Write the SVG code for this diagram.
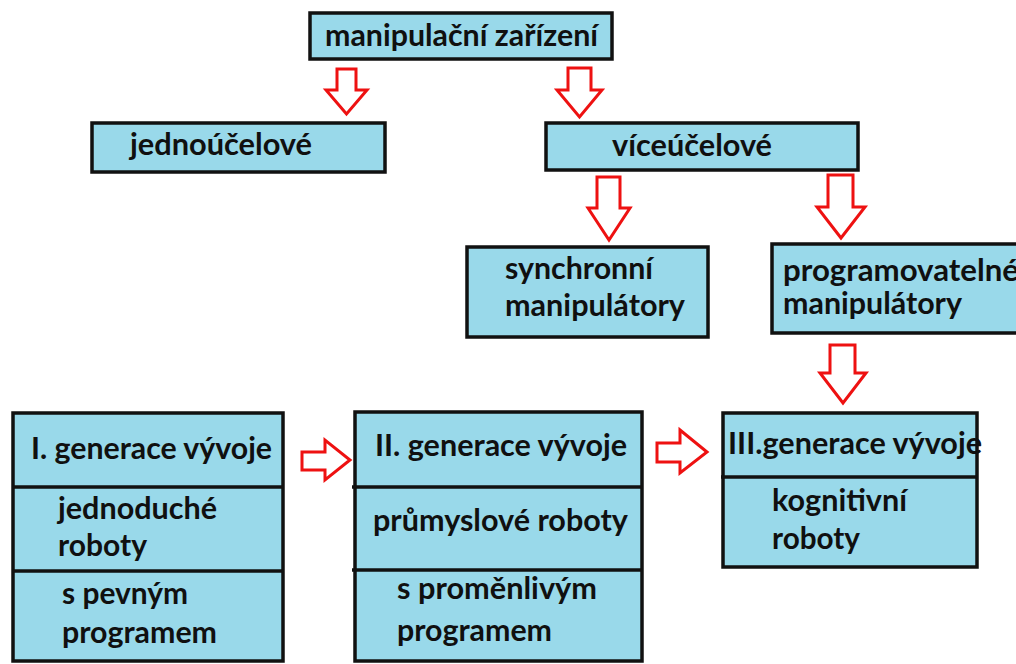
<svg xmlns="http://www.w3.org/2000/svg" width="1016" height="664" viewBox="0 0 1016 664">
<style>
.box{fill:#99d9ea;stroke:#111;stroke-width:3.5}
.div{stroke:#111;stroke-width:3.5;fill:none}
.t{font-family:Lato,"Open Sans","Liberation Sans",sans-serif;font-weight:700;font-size:30.5px;fill:#101010}
.arr{fill:#fff;stroke:#ee1111;stroke-width:3;stroke-linejoin:miter}
</style>
<rect width="1016" height="664" fill="#fff"/>
<g id="connectors">
<polygon class="arr" points="337,69 356,69 356,90 367,90 346.5,114 326,90 337,90"/>
<polygon class="arr" points="568,68 591,68 591,90 602,90 579.5,117 557,90 568,90"/>
<polygon class="arr" points="597,177 620,177 620,208 630,208 609,240 588,208 597,208"/>
<polygon class="arr" points="828,175 853,175 853,207 865,207 841,238 817,207 828,207"/>
<polygon class="arr" points="830,345 855,345 855,373 866,373 843,403 820,373 830,373"/>
<polygon class="arr" points="302,452 325,452 325,440 350,460 325,480 325,470 302,470"/>
<polygon class="arr" points="657,443 680,443 680,430 707,452 680,473 680,462 657,462"/>
</g>
<g id="n-manipulacni">
<rect class="box" x="310" y="13" width="302" height="46" stroke-width="4"/>
<text class="t" x="325" y="46" font-size="29.5" textLength="273" lengthAdjust="spacingAndGlyphs">manipulační zařízení</text>
</g>
<g id="n-jednoucelove">
<rect class="box" x="92" y="123" width="293" height="49"/>
<text class="t" x="130" y="155" font-size="29.5" textLength="182" lengthAdjust="spacingAndGlyphs">jednoúčelové</text>
</g>
<g id="n-viceucelove">
<rect class="box" x="546" y="123" width="312" height="47"/>
<text class="t" x="612" y="156" font-size="29.5" textLength="160" lengthAdjust="spacingAndGlyphs">víceúčelové</text>
</g>
<g id="n-synchronni">
<rect class="box" x="467" y="247" width="241" height="90"/>
<text class="t" x="505" y="279" textLength="148" lengthAdjust="spacingAndGlyphs">synchronní</text>
<text class="t" x="505" y="316" textLength="180" lengthAdjust="spacingAndGlyphs">manipulátory</text>
</g>
<g id="n-programovatelne">
<rect class="box" x="772" y="244" width="260" height="89"/>
<text class="t" x="783" y="281" textLength="236" lengthAdjust="spacingAndGlyphs">programovatelné</text>
<text class="t" x="783" y="314" textLength="179" lengthAdjust="spacingAndGlyphs">manipulátory</text>
</g>
<g id="n-gen1">
<rect class="box" x="13" y="413" width="270" height="248"/>
<line class="div" x1="13" y1="487" x2="283" y2="487"/>
<line class="div" x1="13" y1="571" x2="283" y2="571"/>
<text class="t" x="31" y="459" textLength="241" lengthAdjust="spacingAndGlyphs">I. generace vývoje</text>
<text class="t" x="58" y="519" textLength="159" lengthAdjust="spacingAndGlyphs">jednoduché</text>
<text class="t" x="58" y="556" textLength="89" lengthAdjust="spacingAndGlyphs">roboty</text>
<text class="t" x="62" y="604" textLength="126" lengthAdjust="spacingAndGlyphs">s pevným</text>
<text class="t" x="62" y="643" textLength="155" lengthAdjust="spacingAndGlyphs">programem</text>
</g>
<g id="n-gen2">
<rect class="box" x="355" y="412" width="287" height="249"/>
<line class="div" x1="352" y1="487" x2="642" y2="487"/>
<line class="div" x1="352" y1="570" x2="642" y2="570"/>
<text class="t" x="375" y="456" textLength="252" lengthAdjust="spacingAndGlyphs">II. generace vývoje</text>
<text class="t" x="373" y="531" textLength="255" lengthAdjust="spacingAndGlyphs">průmyslové roboty</text>
<text class="t" x="397" y="599" textLength="200" lengthAdjust="spacingAndGlyphs">s proměnlivým</text>
<text class="t" x="397" y="641" textLength="155" lengthAdjust="spacingAndGlyphs">programem</text>
</g>
<g id="n-gen3">
<rect class="box" x="723" y="413" width="254" height="154"/>
<line class="div" x1="721" y1="477" x2="977" y2="477"/>
<text class="t" x="728" y="454" textLength="254" lengthAdjust="spacingAndGlyphs">III.generace vývoje</text>
<text class="t" x="772" y="511" textLength="135" lengthAdjust="spacingAndGlyphs">kognitivní</text>
<text class="t" x="772" y="549" textLength="88" lengthAdjust="spacingAndGlyphs">roboty</text>
</g>
</svg>
